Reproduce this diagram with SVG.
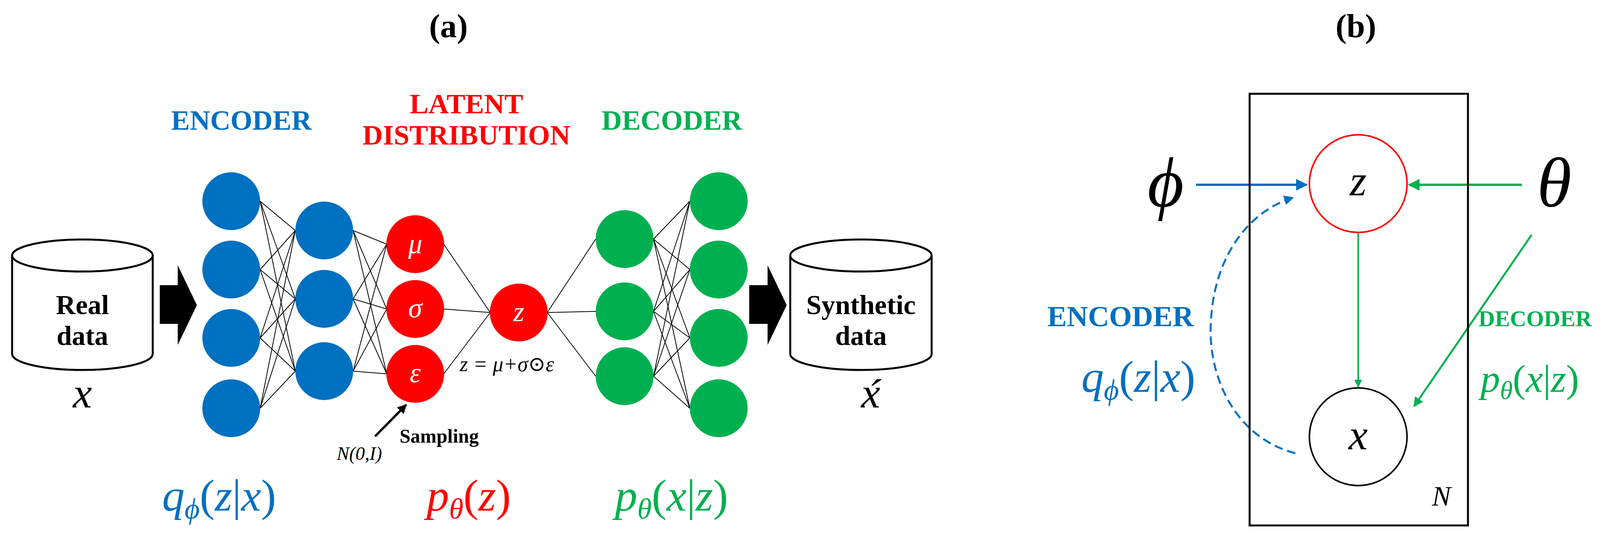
<svg xmlns="http://www.w3.org/2000/svg" width="4281" height="1372" viewBox="0 0 4281 1372">
<style>
.t{font-family:"Liberation Serif",serif;font-weight:bold}
.m{font-family:"Liberation Serif","DejaVu Serif",serif;font-style:italic}
.enc{fill:#0070C0}.lat{fill:#FF0000}.dec{fill:#00B050}
.cyl{fill:#fff;stroke:#000;stroke-width:5}
.nn line{stroke:#000;stroke-width:2}
.w{fill:#fff;font-family:"Liberation Serif",serif;font-style:italic;font-size:72px;text-anchor:middle}
</style>
<defs>
<marker id="ab" viewBox="0 0 10 10" refX="9" refY="5" markerWidth="5" markerHeight="5" orient="auto"><path d="M0,0L10,5L0,10z" fill="#0070C0"/></marker>
<marker id="ag" viewBox="0 0 10 10" refX="9" refY="5" markerWidth="5" markerHeight="5" orient="auto"><path d="M0,0L10,5L0,10z" fill="#00B050"/></marker>
<marker id="ak" viewBox="0 0 10 10" refX="9" refY="5" markerWidth="4" markerHeight="4" orient="auto"><path d="M0,0L10,5L0,10z" fill="#000"/></marker>
</defs>
<rect width="4281" height="1372" fill="#fff"/>
<text class="t" x="1148" y="95" font-size="85" text-anchor="middle">(a)</text>
<text class="t" x="3471" y="95" font-size="85" text-anchor="middle">(b)</text>
<text class="t enc" x="618" y="332" font-size="72" text-anchor="middle">ENCODER</text>
<text class="t lat" x="1194" y="290" font-size="72" text-anchor="middle">LATENT</text>
<text class="t lat" x="1194" y="370" font-size="72" text-anchor="middle">DISTRIBUTION</text>
<text class="t dec" x="1720" y="332" font-size="72" text-anchor="middle">DECODER</text>
<g id="connectors">
<g class="nn">
<line x1="666" y1="515" x2="756" y2="590"/><line x1="666" y1="515" x2="756" y2="765"/><line x1="666" y1="515" x2="756" y2="950"/>
<line x1="666" y1="690" x2="756" y2="590"/><line x1="666" y1="690" x2="756" y2="765"/><line x1="666" y1="690" x2="756" y2="950"/>
<line x1="666" y1="865" x2="756" y2="590"/><line x1="666" y1="865" x2="756" y2="765"/><line x1="666" y1="865" x2="756" y2="950"/>
<line x1="666" y1="1045" x2="756" y2="590"/><line x1="666" y1="1045" x2="756" y2="765"/><line x1="666" y1="1045" x2="756" y2="950"/>
<line x1="904" y1="590" x2="990" y2="625"/><line x1="904" y1="590" x2="990" y2="791"/><line x1="904" y1="590" x2="990" y2="957"/>
<line x1="904" y1="765" x2="990" y2="625"/><line x1="904" y1="765" x2="990" y2="791"/><line x1="904" y1="765" x2="990" y2="957"/>
<line x1="904" y1="950" x2="990" y2="625"/><line x1="904" y1="950" x2="990" y2="791"/><line x1="904" y1="950" x2="990" y2="957"/>
<line x1="1136" y1="625" x2="1255" y2="800"/><line x1="1136" y1="791" x2="1255" y2="800"/><line x1="1136" y1="957" x2="1255" y2="800"/>
<line x1="1401" y1="800" x2="1525" y2="612"/><line x1="1401" y1="800" x2="1525" y2="797"/><line x1="1401" y1="800" x2="1525" y2="963"/>
<line x1="1673" y1="612" x2="1766" y2="515"/><line x1="1673" y1="612" x2="1766" y2="690"/><line x1="1673" y1="612" x2="1766" y2="865"/><line x1="1673" y1="612" x2="1766" y2="1045"/>
<line x1="1673" y1="797" x2="1766" y2="515"/><line x1="1673" y1="797" x2="1766" y2="690"/><line x1="1673" y1="797" x2="1766" y2="865"/><line x1="1673" y1="797" x2="1766" y2="1045"/>
<line x1="1673" y1="963" x2="1766" y2="515"/><line x1="1673" y1="963" x2="1766" y2="690"/><line x1="1673" y1="963" x2="1766" y2="865"/><line x1="1673" y1="963" x2="1766" y2="1045"/>
</g>
<line x1="960" y1="1117" x2="1040" y2="1036" stroke="#000" stroke-width="6" marker-end="url(#ak)"/>
<path d="M409,730H455V679L504,781L455,883V829H409z" fill="#000"/>
<path d="M1918,730H1965V679L2014,781L1965,883V829H1918z" fill="#000"/>
<line x1="3062" y1="473" x2="3345" y2="473" stroke="#0070C0" stroke-width="6" marker-end="url(#ab)"/>
<line x1="3896" y1="473" x2="3607" y2="473" stroke="#00B050" stroke-width="6" marker-end="url(#ag)"/>
<line x1="3477" y1="596" x2="3477" y2="990" stroke="#00B050" stroke-width="4" marker-end="url(#ag)"/>
<line x1="3921" y1="601" x2="3620" y2="1040" stroke="#00B050" stroke-width="5" marker-end="url(#ag)"/>
<path d="M3316,1160C3160,1120 3090,960 3100,820C3110,650 3200,540 3310,506" fill="none" stroke="#0070C0" stroke-width="5" stroke-dasharray="22,12" marker-end="url(#ab)"/>
</g>
<g id="real-data">
<path class="cyl" d="M31,654V906A180,41 0 0 0 391,906V654"/>
<ellipse class="cyl" cx="211" cy="654" rx="180" ry="41"/>
<text class="t" x="211" y="804" font-size="70" text-anchor="middle">Real</text>
<text class="t" x="211" y="883" font-size="70" text-anchor="middle">data</text>
<text class="m" x="211" y="1043" font-size="110" text-anchor="middle">x</text>
</g>
<g id="synthetic-data">
<path class="cyl" d="M2023,654V906A181,41 0 0 0 2385,906V654"/>
<ellipse class="cyl" cx="2204" cy="654" rx="181" ry="41"/>
<text class="t" x="2204" y="804" font-size="70" text-anchor="middle">Synthetic</text>
<text class="t" x="2204" y="883" font-size="70" text-anchor="middle">data</text>
<text class="m" x="2229" y="1043" font-size="110" text-anchor="middle">x́</text>
</g>
<g id="encoder" class="enc">
<circle cx="592" cy="515" r="74"/><circle cx="592" cy="690" r="74"/><circle cx="592" cy="865" r="74"/><circle cx="592" cy="1045" r="74"/>
<circle cx="830" cy="590" r="74"/><circle cx="830" cy="765" r="74"/><circle cx="830" cy="950" r="74"/>
</g>
<g id="latent" class="lat">
<circle cx="1063" cy="625" r="74"/><circle cx="1063" cy="791" r="74"/><circle cx="1063" cy="957" r="74"/>
<circle cx="1328" cy="800" r="74"/>
<text class="w" x="1063" y="648">μ</text>
<text class="w" x="1063" y="812">σ</text>
<text class="w" x="1063" y="978">ε</text>
<text class="w" x="1328" y="822">z</text>
</g>
<g id="decoder" class="dec">
<circle cx="1599" cy="612" r="74"/><circle cx="1599" cy="797" r="74"/><circle cx="1599" cy="963" r="74"/>
<circle cx="1840" cy="515" r="74"/><circle cx="1840" cy="690" r="74"/><circle cx="1840" cy="865" r="74"/><circle cx="1840" cy="1045" r="74"/>
</g>
<text class="m" x="1177" y="950" font-size="54" font-style="normal">z = <tspan font-style="italic">μ</tspan>+<tspan font-style="italic">σ</tspan>⊙<tspan font-style="italic">ε</tspan></text>
<text class="m" x="862" y="1177" font-size="48">N(0,I)</text>
<text class="t" x="1023" y="1133" font-size="50">Sampling</text>
<text class="m enc" x="415" y="1307" font-size="115">q<tspan font-size="75" dy="20">ϕ</tspan><tspan dy="-20" font-style="normal">(</tspan>z<tspan font-style="normal">|</tspan>x<tspan font-style="normal">)</tspan></text>
<text class="m lat" x="1092" y="1307" font-size="115">p<tspan font-size="75" dy="20">θ</tspan><tspan dy="-20" font-style="normal">(</tspan>z<tspan font-style="normal">)</tspan></text>
<text class="m dec" x="1574" y="1307" font-size="115">p<tspan font-size="75" dy="20">θ</tspan><tspan dy="-20" font-style="normal">(</tspan>x<tspan font-style="normal">|</tspan>z<tspan font-style="normal">)</tspan></text>
<g id="plate">
<rect x="3199" y="240" width="559" height="1105" fill="none" stroke="#000" stroke-width="5"/>
<text class="m" x="3690" y="1294" font-size="72" text-anchor="middle">N</text>
</g>
<g id="node-z">
<circle cx="3477" cy="470" r="125" fill="#fff" stroke="#FF0000" stroke-width="4"/>
<text class="m" x="3477" y="500" font-size="110" text-anchor="middle">z</text>
</g>
<g id="node-x">
<circle cx="3477" cy="1118" r="125" fill="#fff" stroke="#000" stroke-width="4"/>
<text class="m" x="3477" y="1150" font-size="110" text-anchor="middle">x</text>
</g>
<g id="phi"><text class="m" x="2984" y="528" font-size="180" text-anchor="middle">ϕ</text></g>
<g id="theta"><text class="m" x="3979" y="528" font-size="180" text-anchor="middle">θ</text></g>
<text class="t enc" x="3056" y="835" font-size="75" text-anchor="end">ENCODER</text>
<text class="m enc" x="3060" y="1003" font-size="115" text-anchor="end">q<tspan font-size="75" dy="20">ϕ</tspan><tspan dy="-20" font-style="normal">(</tspan>z<tspan font-style="normal">|</tspan>x<tspan font-style="normal">)</tspan></text>
<text class="t dec" x="3785" y="835" font-size="58">DECODER</text>
<text class="m dec" x="3790" y="1003" font-size="100">p<tspan font-size="66" dy="18">θ</tspan><tspan dy="-18" font-style="normal">(</tspan>x<tspan font-style="normal">|</tspan>z<tspan font-style="normal">)</tspan></text>
</svg>
